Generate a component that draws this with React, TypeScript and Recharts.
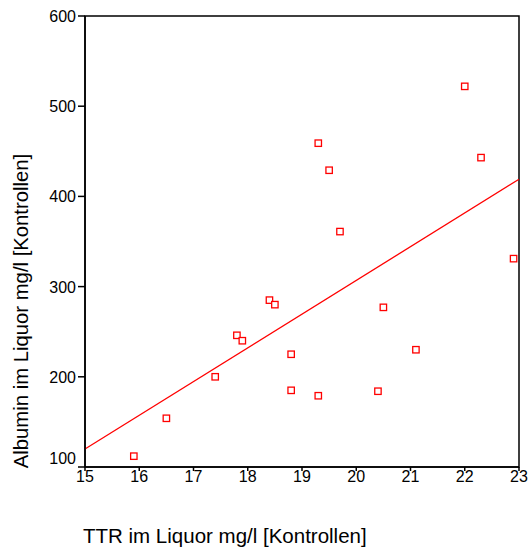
import React from "react";
import {
  ReferenceArea,
  ReferenceLine,
  Scatter,
  ScatterChart,
  XAxis,
  YAxis,
} from "recharts";

// TTR (x) and albumin (y) for the controls
const ttr = [
  22.0, 19.3, 19.5, 22.3, 19.7, 22.9, 18.4, 18.5, 20.5, 17.8, 17.9, 18.8,
  21.1, 17.4, 18.8, 19.3, 20.4, 16.5, 15.9,
];
const albumin = [
  522, 459, 429, 443, 361, 331, 285, 280, 277, 246, 240, 225, 230, 200, 185,
  179, 184, 154, 112,
];
// fitted line endpoints
const fitX = [15, 23];
const fitY = [120, 419];

const xTicks = [15, 16, 17, 18, 19, 20, 21, 22, 23];
const yTicks = [100, 200, 300, 400, 500, 600];

const points = ttr.map((x, i) => ({ x, y: albumin[i] }));

const FONT = "'Liberation Sans', Arial, Helvetica, sans-serif";
const RED = "#ff0000";

function SquareMarker(props: any) {
  const { cx, cy } = props;
  if (cx == null || cy == null) return null;
  return (
    <rect
      x={cx - 3.2}
      y={cy - 3.2}
      width={6.4}
      height={6.4}
      fill="#fff"
      stroke={RED}
      strokeWidth={1.3}
    />
  );
}

function YTick(props: any) {
  const { x, y, payload } = props;
  // lowest label sits a bit above its tick, as in the original
  const dy = payload.value === 100 ? -3 : 6;
  return (
    <text
      x={x}
      y={y + dy}
      textAnchor="end"
      fontSize={16}
      fontFamily={FONT}
      fill="#000"
    >
      {payload.value}
    </text>
  );
}

function XTick(props: any) {
  const { x, y, payload } = props;
  return (
    <text
      x={x}
      y={y + 9}
      textAnchor="middle"
      fontSize={16}
      fontFamily={FONT}
      fill="#000"
    >
      {payload.value}
    </text>
  );
}

export default function App() {
  return (
    <div style={{ position: "absolute", left: 0, top: 0, background: "#fff" }}>
      <ScatterChart
        width={530}
        height={549}
        margin={{ top: 16, right: 11, bottom: 52, left: 0 }}
      >
        <XAxis
          type="number"
          dataKey="x"
          domain={[15, 23]}
          ticks={xTicks}
          allowDataOverflow
          height={30}
          stroke="#000"
          strokeWidth={1.5}
          tickSize={4}
          tick={<XTick />}
          label={{
            value: "TTR im Liquor mg/l [Kontrollen]",
            content: (p: any) => {
              const vb = p.viewBox;
              return (
                <text
                  x={vb.x - 2}
                  y={543}
                  fontSize={20.5}
                  fontFamily={FONT}
                  fill="#000"
                >
                  TTR im Liquor mg/l [Kontrollen]
                </text>
              );
            },
          }}
        />
        <YAxis
          type="number"
          dataKey="y"
          domain={[100, 600]}
          ticks={yTicks}
          allowDataOverflow
          width={85}
          stroke="#000"
          strokeWidth={1.5}
          tickSize={7}
          tick={<YTick />}
          label={{
            value: "Albumin im Liquor mg/l [Kontrollen]",
            content: () => (
              <text
                x={0}
                y={0}
                transform="translate(28, 311) rotate(-90)"
                textAnchor="middle"
                fontSize={20.3}
                fontFamily={FONT}
                fill="#000"
              >
                Albumin im Liquor mg/l [Kontrollen]
              </text>
            ),
          }}
        />
        <ReferenceArea
          x1={15}
          x2={23}
          y1={100}
          y2={600}
          fill="none"
          stroke="#000"
          strokeWidth={1.5}
          ifOverflow="visible"
        />
        <ReferenceLine
          segment={[
            { x: fitX[0], y: fitY[0] },
            { x: fitX[1], y: fitY[1] },
          ]}
          stroke={RED}
          strokeWidth={1.3}
          ifOverflow="visible"
        />
        <Scatter
          data={points}
          shape={<SquareMarker />}
          isAnimationActive={false}
        />
      </ScatterChart>
    </div>
  );
}
